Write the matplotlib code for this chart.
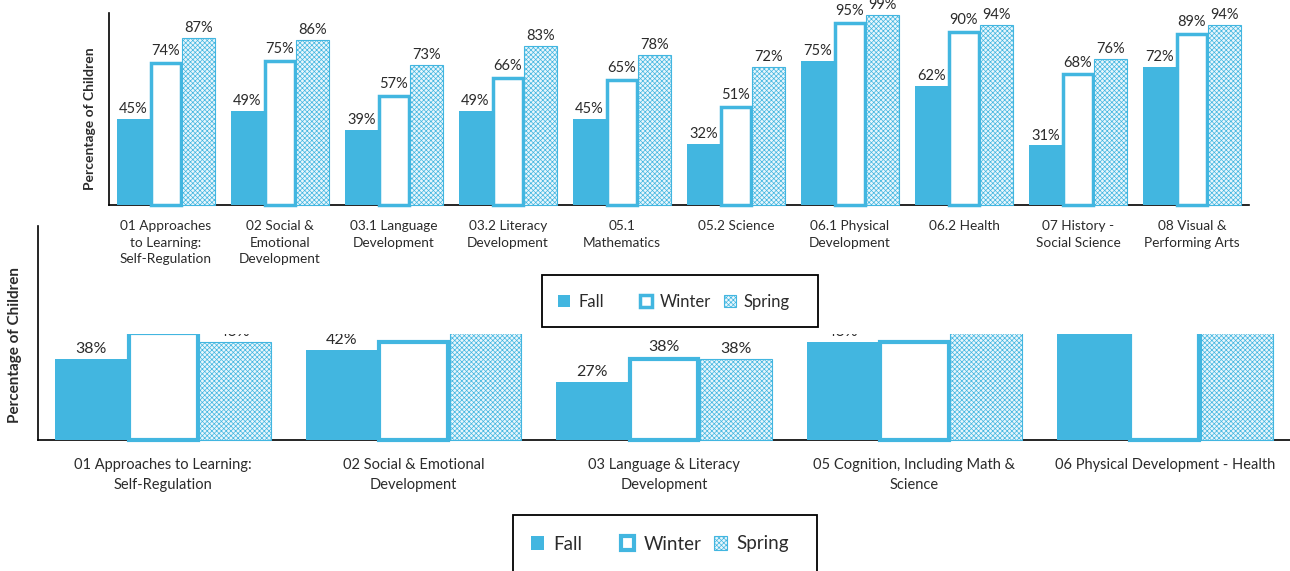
import numpy as np
import matplotlib
matplotlib.use("Agg")
import matplotlib.pyplot as plt
from matplotlib.patches import Rectangle

plt.rcParams['font.family'] = ['Lato', 'DejaVu Sans']
plt.rcParams['hatch.linewidth'] = 0.5

# top chart: individual domains
top_labels = ["01 Approaches\nto Learning:\nSelf-Regulation", "02 Social &\nEmotional\nDevelopment",
              "03.1 Language\nDevelopment", "03.2 Literacy\nDevelopment", "05.1\nMathematics",
              "05.2 Science", "06.1 Physical\nDevelopment", "06.2 Health",
              "07 History -\nSocial Science", "08 Visual &\nPerforming Arts"]
top_fall = [45, 49, 39, 49, 45, 32, 75, 62, 31, 72]
top_winter = [74, 75, 57, 66, 65, 51, 95, 90, 68, 89]
top_spring = [87, 86, 73, 83, 78, 72, 99, 94, 76, 94]

# bottom chart: combined domains (upper part hidden behind the top chart)
bot_labels = ["01 Approaches to Learning:\nSelf-Regulation", "02 Social & Emotional\nDevelopment",
              "03 Language & Literacy\nDevelopment", "05 Cognition, Including Math &\nScience",
              "06 Physical Development - Health"]
bot_fall = [38, 42, 27, 46, 58]
bot_winter = [50, 46, 38, 46, 60]
bot_spring = [46, 55, 38, 53, 62]

seasons = ["Fall", "Winter", "Spring"]

BLUE = "#42b6e0"
TXT = "#2b2b2b"
W, H = 1290, 571


def box(l, t, r, b):
    return [l / W, 1 - b / H, (r - l) / W, (b - t) / H]


def draw_bars(ax, fall, winter, spring, w, w_win, lw_winter, fs):
    x = np.arange(len(fall))
    b1 = ax.bar(x - w, fall, w, color=BLUE, zorder=3, clip_on=False)
    b2 = ax.bar(x, winter, w_win, facecolor="white", edgecolor=BLUE, linewidth=lw_winter,
                zorder=3, clip_on=False)
    b3 = ax.bar(x + w, spring, w, facecolor="#e8f6fc", edgecolor=BLUE, hatch="xxxxxxx",
                linewidth=0.8, zorder=3, clip_on=False)
    for c, pad in [(b1, 2), (b2, 3.5), (b3, 2)]:
        ax.bar_label(c, labels=[f"{v}%" for v in c.datavalues], padding=pad,
                     fontsize=fs, color=TXT)
    ax.set_ylim(0, 100)
    ax.set_xlim(-0.5, len(fall) - 0.5)
    ax.set_yticks([])
    for s in ["top", "right"]:
        ax.spines[s].set_visible(False)
    for s in ["left", "bottom"]:
        ax.spines[s].set_linewidth(1.2)
    return b1, b2, b3


def legend_row(handles, xs, yc, fs, hl):
    for h, lab, xp in zip(handles, seasons, xs):
        fig.legend([h], [lab], loc="center left", bbox_to_anchor=(xp / W, 1 - yc / H),
                   frameon=False, fontsize=fs, handlelength=hl, handleheight=hl,
                   handletextpad=0.5, borderpad=0, borderaxespad=0, labelcolor=TXT)


fig = plt.figure(figsize=(12.9, 5.71), dpi=100)

# bottom chart
ax2 = fig.add_axes(box(38, 226, 1290, 440))
bars2 = draw_bars(ax2, bot_fall, bot_winter, bot_spring, 0.287, 0.275, 3, 11.5)
ax2.set_xticks(np.arange(len(bot_labels)), bot_labels, fontsize=10.5, color=TXT, linespacing=1.5)
ax2.tick_params(axis="x", length=0, pad=13)
ax2.set_ylabel("Percentage of Children", fontsize=11, fontweight="bold", color=TXT, va="center")
ax2.yaxis.set_label_coords(-0.0184, 0.444)
legend_row(bars2, [531, 621, 714], 544, 13.5, 0.7)
fig.add_artist(Rectangle((513 / W, 1 - 580 / H), (817 - 513) / W, (580 - 515) / H,
                         transform=fig.transFigure, fill=False, edgecolor="black", lw=1.3, zorder=3))

# white page of the top chart laid over the bottom one
fig.add_artist(Rectangle((42 / W, 1 - 334 / H), 1 - 42 / W, 334 / H, transform=fig.transFigure,
                         facecolor="white", edgecolor="none", zorder=1))

# top chart
ax1 = fig.add_axes(box(109, 13, 1249, 205))
ax1.set_zorder(2)
ax1.patch.set_alpha(0)
bars1 = draw_bars(ax1, top_fall, top_winter, top_spring, 0.285, 0.26, 2.5, 10.5)
ax1.set_xticks(np.arange(len(top_labels)), top_labels, fontsize=9.8, color=TXT, linespacing=1.45)
ax1.tick_params(axis="x", length=0, pad=11)
ax1.set_ylabel("Percentage of Children", fontsize=10, fontweight="bold", color=TXT, va="center")
ax1.yaxis.set_label_coords(-0.017, 0.45)
legend_row(bars1, [558, 640, 724], 302, 12, 0.7)
fig.add_artist(Rectangle((542 / W, 1 - 327 / H), (818 - 542) / W, (327 - 275) / H,
                         transform=fig.transFigure, fill=False, edgecolor="black", lw=1.3, zorder=3))

fig.savefig("out.png", dpi=100)
